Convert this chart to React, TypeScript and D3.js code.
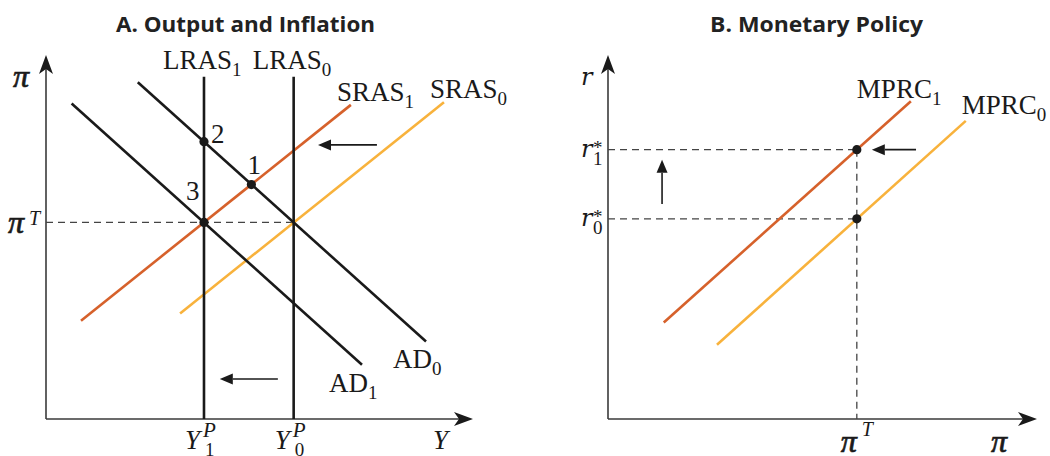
import React from "react";
import * as d3 from "d3";

// ---------- data (abstract units, 0..100 on each axis) ----------
const lrasLines = [
  { name: "LRAS", sub: "1", x: 37 },
  { name: "LRAS", sub: "0", x: 58 },
];
const lrasTop = 94;
const piTarget = 54;
const adCurves = [
  { name: "AD", sub: "0", pts: [[21.5, 92.5], [89, 21.3]] },
  { name: "AD", sub: "1", pts: [[6, 86.7], [74, 14.9]] },
];
const srasCurves = [
  { name: "SRAS", sub: "1", pts: [[8.2, 27.0], [71.4, 86.3]] },
  { name: "SRAS", sub: "0", pts: [[31.4, 29.0], [93.2, 87.0]] },
];
const pointsA = [
  { label: "2", x: 37, y: 76.2 },
  { label: "1", x: 48.1, y: 64.4 },
  { label: "3", x: 37, y: 54 },
];
const arrowsA = [
  { from: [54.3, 11], to: [40.7, 11] },
  { from: [77.5, 75.3], to: [63.7, 75.3] },
];

const piTargetB = 58;
const rStars = [
  { sub: "1", y: 74 },
  { sub: "0", y: 55 },
];
const mprcCurves = [
  { name: "MPRC", sub: "1", pts: [[13, 26.5], [70.6, 87.3]] },
  { name: "MPRC", sub: "0", pts: [[25.4, 20.4], [83.4, 81.9]] },
];
const arrowsB = [
  { from: [71.8, 74], to: [61.5, 74] },
  { from: [12.6, 59.1], to: [12.6, 71.2] },
];

// ---------- styling / layout ----------
const DARK = "#d6612b";
const LIGHT = "#f8b23c";
const INK = "#1a1a1a";
const AXIS = "#3a3a3a";
const SERIF = "'Liberation Serif', 'DejaVu Serif', serif";
const MATH = "'DejaVu Serif', 'Liberation Serif', serif";
const SANS = "'Open Sans', 'DejaVu Sans', sans-serif";

const xA = d3.scaleLinear().domain([0, 100]).range([46, 473]);
const yA = d3.scaleLinear().domain([0, 100]).range([419, 55]);
const xB = d3.scaleLinear().domain([0, 100]).range([608, 1037]);
const yB = d3.scaleLinear().domain([0, 100]).range([419, 55]);

const srasColors = [DARK, LIGHT];
const mprcColors = [DARK, LIGHT];
const pointLabelOffsets = [
  [7, 1],
  [-4, -11],
  [-18, -22],
];
const mprcLabelOffsets = [
  [-54, -3],
  [-4, -7],
];

const line = d3.line<number[]>();

function Sub({ x, y, main, sub }: any) {
  return (
    <text x={x} y={y} fontFamily={SERIF} fontSize={27} fill={INK}>
      <tspan>{main}</tspan>
      <tspan fontSize={19} dy={7}>
        {sub}
      </tspan>
    </text>
  );
}

function Pi({ x, y }: any) {
  return (
    <tspan
      x={x}
      y={y}
      fontFamily={SERIF}
      fontStyle="italic"
      fontSize={32}
      stroke={INK}
      strokeWidth={0.7}
    >
      π
    </tspan>
  );
}

function Arrow({ x1, y1, x2, y2 }: any) {
  const ang = Math.atan2(y2 - y1, x2 - x1);
  const L = 13;
  const W = 5.5;
  const bx = x2 - L * Math.cos(ang);
  const by = y2 - L * Math.sin(ang);
  const px = -Math.sin(ang) * W;
  const py = Math.cos(ang) * W;
  return (
    <g>
      <line x1={x1} y1={y1} x2={bx} y2={by} stroke={INK} strokeWidth={1.6} />
      <path
        d={`M${x2},${y2}L${bx + px},${by + py}L${bx - px},${by - py}Z`}
        fill={INK}
      />
    </g>
  );
}

function Axes({ x, y }: any) {
  const x0 = x(0);
  const y0 = y(0);
  const xt = x(100);
  const yt = y(100);
  return (
    <g>
      <line x1={x0} y1={y0} x2={x0} y2={yt + 12} stroke={AXIS} strokeWidth={1.6} />
      <line x1={x0} y1={y0} x2={xt - 12} y2={y0} stroke={AXIS} strokeWidth={1.6} />
      <path
        d={`M${x0},${yt}L${x0 - 7},${yt + 19}L${x0},${yt + 14}L${x0 + 7},${yt + 19}Z`}
        fill={INK}
      />
      <path
        d={`M${xt},${y0}L${xt - 19},${y0 - 7}L${xt - 14},${y0}L${xt - 19},${y0 + 7}Z`}
        fill={INK}
      />
    </g>
  );
}

export default function App() {
  return (
    <svg
      width={1050}
      height={456}
      style={{ position: "absolute", left: 0, top: 0, background: "#fff" }}
    >
      {/* ---------------- Panel A ---------------- */}
      <text
        x={116}
        y={32}
        fontFamily={SANS}
        fontWeight={700}
        fontSize={22}
        fill="#222"
        textLength={259}
        lengthAdjust="spacingAndGlyphs"
      >
        A. Output and Inflation
      </text>
      <Axes x={xA} y={yA} />
      <line
        x1={xA(0)}
        x2={xA(lrasLines[1].x)}
        y1={yA(piTarget)}
        y2={yA(piTarget)}
        stroke="#444"
        strokeWidth={1.3}
        strokeDasharray="7 5"
      />
      {srasCurves.map((c, i) => (
        <path
          key={"s" + i}
          d={line(c.pts.map((p) => [xA(p[0]), yA(p[1])]))!}
          stroke={srasColors[i]}
          strokeWidth={2.6}
          fill="none"
        />
      ))}
      {lrasLines.map((l, i) => (
        <line
          key={"l" + i}
          x1={xA(l.x)}
          x2={xA(l.x)}
          y1={yA(lrasTop)}
          y2={yA(0)}
          stroke={INK}
          strokeWidth={2.6}
        />
      ))}
      {adCurves.map((c, i) => (
        <path
          key={"a" + i}
          d={line(c.pts.map((p) => [xA(p[0]), yA(p[1])]))!}
          stroke={INK}
          strokeWidth={2.6}
          fill="none"
        />
      ))}
      {pointsA.map((p, i) => (
        <g key={"p" + i}>
          <circle cx={xA(p.x)} cy={yA(p.y)} r={4.6} fill={INK} />
          <text
            x={xA(p.x) + pointLabelOffsets[i][0]}
            y={yA(p.y) + pointLabelOffsets[i][1]}
            fontFamily={SERIF}
            fontSize={27}
            fill={INK}
          >
            {p.label}
          </text>
        </g>
      ))}
      {arrowsA.map((a, i) => (
        <Arrow
          key={"ar" + i}
          x1={xA(a.from[0])}
          y1={yA(a.from[1])}
          x2={xA(a.to[0])}
          y2={yA(a.to[1])}
        />
      ))}
      {lrasLines.map((l, i) => (
        <Sub key={"ll" + i} x={xA(l.x) - 41} y={69} main={l.name} sub={l.sub} />
      ))}
      {srasCurves.map((c, i) => (
        <Sub
          key={"sl" + i}
          x={xA(c.pts[1][0]) - 14}
          y={yA(c.pts[1][1]) - 4}
          main={c.name}
          sub={c.sub}
        />
      ))}
      {adCurves.map((c, i) => (
        <Sub
          key={"al" + i}
          x={xA(c.pts[1][0]) - 33}
          y={yA(c.pts[1][1]) + 27}
          main={c.name}
          sub={c.sub}
        />
      ))}
      <text fill={INK}>
        <Pi x={13} y={87} />
      </text>
      <text fill={INK}>
        <Pi x={8} y={233} />
        <tspan x={29} y={225} fontSize={20} fontFamily={SERIF} fontStyle="italic">
          T
        </tspan>
      </text>
      {lrasLines.map((l, i) => (
        <text key={"yp" + i} fontFamily={SERIF} fill={INK}>
          <tspan x={xA(l.x) - 19} y={449} fontStyle="italic" fontSize={27}>
            Y
          </tspan>
          <tspan x={xA(l.x) - 1} y={437} fontStyle="italic" fontSize={21}>
            P
          </tspan>
          <tspan x={xA(l.x) + 1} y={456} fontSize={19}>
            {l.sub}
          </tspan>
        </text>
      ))}
      <text x={433} y={449} fontFamily={SERIF} fontStyle="italic" fontSize={27} fill={INK}>
        Y
      </text>

      {/* ---------------- Panel B ---------------- */}
      <text
        x={710}
        y={32}
        fontFamily={SANS}
        fontWeight={700}
        fontSize={22}
        fill="#222"
        textLength={213}
        lengthAdjust="spacingAndGlyphs"
      >
        B. Monetary Policy
      </text>
      <Axes x={xB} y={yB} />
      {rStars.map((r, i) => (
        <line
          key={"rd" + i}
          x1={xB(0)}
          x2={xB(piTargetB)}
          y1={yB(r.y)}
          y2={yB(r.y)}
          stroke="#444"
          strokeWidth={1.3}
          strokeDasharray="7 5"
        />
      ))}
      <line
        x1={xB(piTargetB)}
        x2={xB(piTargetB)}
        y1={yB(d3.max(rStars, (r) => r.y)!)}
        y2={yB(0)}
        stroke="#444"
        strokeWidth={1.3}
        strokeDasharray="7 5"
      />
      {mprcCurves.map((c, i) => (
        <path
          key={"m" + i}
          d={line(c.pts.map((p) => [xB(p[0]), yB(p[1])]))!}
          stroke={mprcColors[i]}
          strokeWidth={2.6}
          fill="none"
        />
      ))}
      {rStars.map((r, i) => (
        <circle key={"rp" + i} cx={xB(piTargetB)} cy={yB(r.y)} r={4.6} fill={INK} />
      ))}
      {arrowsB.map((a, i) => (
        <Arrow
          key={"br" + i}
          x1={xB(a.from[0])}
          y1={yB(a.from[1])}
          x2={xB(a.to[0])}
          y2={yB(a.to[1])}
        />
      ))}
      {mprcCurves.map((c, i) => (
        <Sub
          key={"ml" + i}
          x={xB(c.pts[1][0]) + mprcLabelOffsets[i][0]}
          y={yB(c.pts[1][1]) + mprcLabelOffsets[i][1]}
          main={c.name}
          sub={c.sub}
        />
      ))}
      <text x={581} y={85} fontFamily={MATH} fontStyle="italic" fontSize={24} fill={INK}>
        r
      </text>
      {rStars.map((r, i) => (
        <text key={"rl" + i} fill={INK} fontFamily={SERIF}>
          <tspan x={581} y={yB(r.y) + 7} fontFamily={MATH} fontStyle="italic" fontSize={24}>
            r
          </tspan>
          <tspan x={593} y={yB(r.y) + 4} fontSize={19}>
            *
          </tspan>
          <tspan x={593} y={yB(r.y) + 15} fontSize={19}>
            {r.sub}
          </tspan>
        </text>
      ))}
      <text fill={INK}>
        <Pi x={xB(piTargetB) - 16} y={452} />
        <tspan
          x={xB(piTargetB) + 5}
          y={436}
          fontSize={20}
          fontFamily={SERIF}
          fontStyle="italic"
        >
          T
        </tspan>
      </text>
      <text fill={INK}>
        <Pi x={991} y={452} />
      </text>
    </svg>
  );
}
